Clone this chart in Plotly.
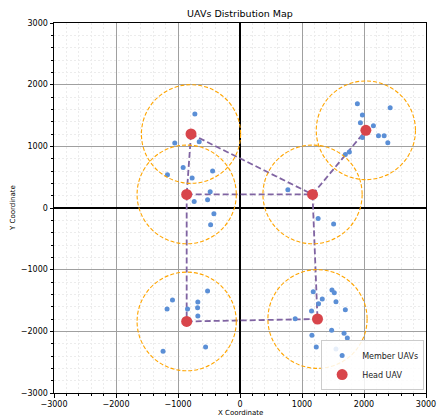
import plotly.graph_objects as go

# ---- data ----
member_x = [-728, -1052, -658, -917, -1170, -772, -442, -481, -739, -523, -421, -474,
            -523, -1089, -1176, -680, -684, -846, -680, -555, -1241,
            1893, 1974, 1942, 2422, 2152, 1974, 2233, 2325, 2384, 1764, 1699, 772, 1260, 1510,
            1181, 1483, 1521, 1327, 1267, 1548, 1154, 1699, 890, 1478, 1160, 1678, 1731, 1230, 1548]
member_y = [1523, 1053, 1074, 658, 540, 486, 600, 264, 107, 135, -95, -271,
            -1345, -1491, -1637, -1523, -1616, -1637, -1750, -2253, -2324,
            1690, 1507, 1382, 1625, 1333, 1144, 1172, 1172, 1058, 908, 869, 297, -170, -259,
            -1357, -1329, -1373, -1475, -1551, -1519, -1669, -1648, -1794, -1984, -2065, -2032, -2107, -2253, -2285]

head_x = [-790, -860, -860, 1170, 2030, 1250]
head_y = [1200, 220, -1840, 220, 1260, -1800]
coverage_radius = 800

edges = [(0, 1), (1, 2), (0, 3), (1, 3), (3, 4), (3, 5), (2, 5)]

ticks = [-3000, -2000, -1000, 0, 1000, 2000, 3000]
tick_labels = ["\u22123000", "\u22122000", "\u22121000", "0", "1000", "2000", "3000"]

MEMBER_C = "#5b8fd6"
HEAD_C = "#d8454b"
LINK_C = "#8064a2"
RING_C = "#ffa500"
FONT = "DejaVu Sans"

fig = go.Figure()

# links between heads
for a, b in edges:
    fig.add_trace(go.Scatter(x=[head_x[a], head_x[b]], y=[head_y[a], head_y[b]],
                             mode="lines", line=dict(color=LINK_C, width=1.8, dash="6px,3px"),
                             showlegend=False, hoverinfo="skip"))

fig.add_trace(go.Scatter(x=member_x, y=member_y, mode="markers", name="Member UAVs",
                         marker=dict(color=MEMBER_C, size=5, line=dict(width=0))))
fig.add_trace(go.Scatter(x=head_x, y=head_y, mode="markers", name="Head UAV",
                         marker=dict(color=HEAD_C, size=11, line=dict(width=0))))

for cx, cy in zip(head_x, head_y):
    fig.add_shape(type="circle", xref="x", yref="y",
                  x0=cx - coverage_radius, x1=cx + coverage_radius,
                  y0=cy - coverage_radius, y1=cy + coverage_radius,
                  line=dict(color=RING_C, width=1.1, dash="4px,2px"), layer="above")

axis_common = dict(
    range=[-3000, 3000], tickmode="array", tickvals=ticks, ticktext=tick_labels,
    automargin=False,
    showgrid=True, gridcolor="#a0a0a0", gridwidth=1.2,
    zeroline=True, zerolinecolor="black", zerolinewidth=1.5,
    showline=True, mirror=True, linecolor="black", linewidth=1,
    ticks="outside", ticklen=3.5, tickwidth=1, tickcolor="black",
    tickfont=dict(family=FONT, size=8, color="black"),
    minor=dict(dtick=200, tick0=0, showgrid=True, gridcolor="#ececec", griddash="2px,2px",
               gridwidth=0.8, ticks="outside", ticklen=2, tickcolor="black"),
)

fig.update_layout(
    width=437, height=419,
    margin=dict(l=54, r=11, t=23, b=26),
    plot_bgcolor="white", paper_bgcolor="white",
    font=dict(family=FONT, size=8, color="black"),
    title=dict(text="UAVs Distribution Map", x=0.5, xref="paper", xanchor="center",
               y=1 - 14 / 419, yanchor="middle",
               font=dict(family=FONT, size=9.5, color="black", weight="normal")),
    xaxis=dict(**axis_common),
    yaxis=dict(**axis_common),
    showlegend=True,
    legend=dict(x=0.995, y=0.008, xanchor="right", yanchor="bottom",
                bgcolor="rgba(255,255,255,0.85)", bordercolor="#cccccc", borderwidth=1,
                font=dict(family=FONT, size=8, color="#222"), itemwidth=30,
                tracegroupgap=0),
    annotations=[
        dict(text="X Coordinate", xref="paper", yref="paper", x=0.5, y=(393 - 413) / 370,
             xanchor="center", yanchor="middle", showarrow=False,
             font=dict(family=FONT, size=7, color="black")),
        dict(text="Y Coordinate", xref="paper", yref="paper", x=(13 - 54) / 372, y=0.5,
             xanchor="center", yanchor="middle", showarrow=False, textangle=-90,
             font=dict(family=FONT, size=7, color="black")),
    ],
)

fig.write_html("out.html")
